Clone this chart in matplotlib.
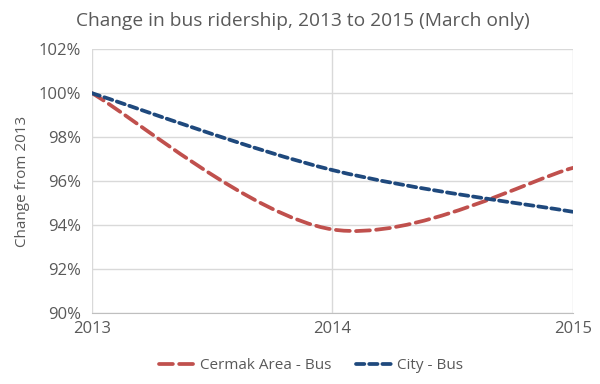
import numpy as np
import matplotlib
matplotlib.use('Agg')
import matplotlib.pyplot as plt
from matplotlib.path import Path
from matplotlib.patches import PathPatch
from matplotlib.lines import Line2D

plt.rcParams['font.family'] = ['Open Sans', 'DejaVu Sans']
plt.rcParams['lines.scale_dashes'] = False

# data (March ridership, relative to 2013)
years = [2013, 2014, 2015]
cermak = [100.0, 93.8, 96.6]
city = [100.0, 96.5, 94.6]
series_names = ['Cermak Area - Bus', 'City - Bus']
yticks = [90, 92, 94, 96, 98, 100, 102]

red = '#C0504D'
blue = '#1F497D'
gray = '#595959'
grid = '#D9D9D9'


def smooth_path(xs, ys):
    # Excel-style smoothed line: cubic bezier, control points from neighbours
    p = np.column_stack([xs, ys]).astype(float)
    n = len(p)
    verts = [p[0]]
    codes = [Path.MOVETO]
    for i in range(n - 1):
        prev = p[i - 1] if i > 0 else p[i]
        nxt = p[i + 2] if i + 2 < n else p[i + 1]
        c1 = p[i] + (p[i + 1] - prev) / 6
        c2 = p[i + 1] - (nxt - p[i]) / 6
        verts += [c1, c2, p[i + 1]]
        codes += [Path.CURVE4] * 3
    return Path(verts, codes)


fig = plt.figure(figsize=(6, 3.84), dpi=100)
ax = fig.add_axes([0.153, 0.185, 0.802, 0.687])

lw = 2.7
styles = [(red, (0, (10, 4.5))), (blue, (0, (6, 3.5)))]
for vals, (col, ls) in zip([cermak, city], styles):
    patch = PathPatch(smooth_path(years, vals), fill=False, edgecolor=col,
                      linewidth=lw, linestyle=ls, capstyle='round', zorder=3)
    ax.add_patch(patch)

ax.set_xlim(years[0], years[-1])
ax.set_ylim(yticks[0], yticks[-1])
ax.set_xticks(years)
ax.set_xticklabels([str(y) for y in years])
ax.set_yticks(yticks)
ax.set_yticklabels([f'{v}%' for v in yticks])
ax.grid(True, color=grid, linewidth=1)
ax.set_axisbelow(True)
for s in ['top', 'right', 'left']:
    ax.spines[s].set_visible(False)
ax.spines['bottom'].set_color('#BFBFBF')
ax.tick_params(length=0, labelsize=12, colors=gray, pad=8)
ax.tick_params(axis='x', pad=6)

ax.set_ylabel('Change from 2013', fontsize=11, color=gray)
ax.yaxis.set_label_coords(-0.128, 0.5)
fig.text(0.505, 0.945, 'Change in bus ridership, 2013 to 2015 (March only)',
         ha='center', va='center', fontsize=13.8, color=gray)

handles = [Line2D([], [], color=c, lw=lw, linestyle=ls, dash_capstyle='round')
           for c, ls in styles]
ax.legend(handles, series_names, loc='upper center', bbox_to_anchor=(0.455, -0.12),
          ncol=2, frameon=False, fontsize=11, labelcolor=gray,
          handlelength=2.4, handletextpad=0.3, columnspacing=1.6)

fig.savefig('out.png', dpi=100)
